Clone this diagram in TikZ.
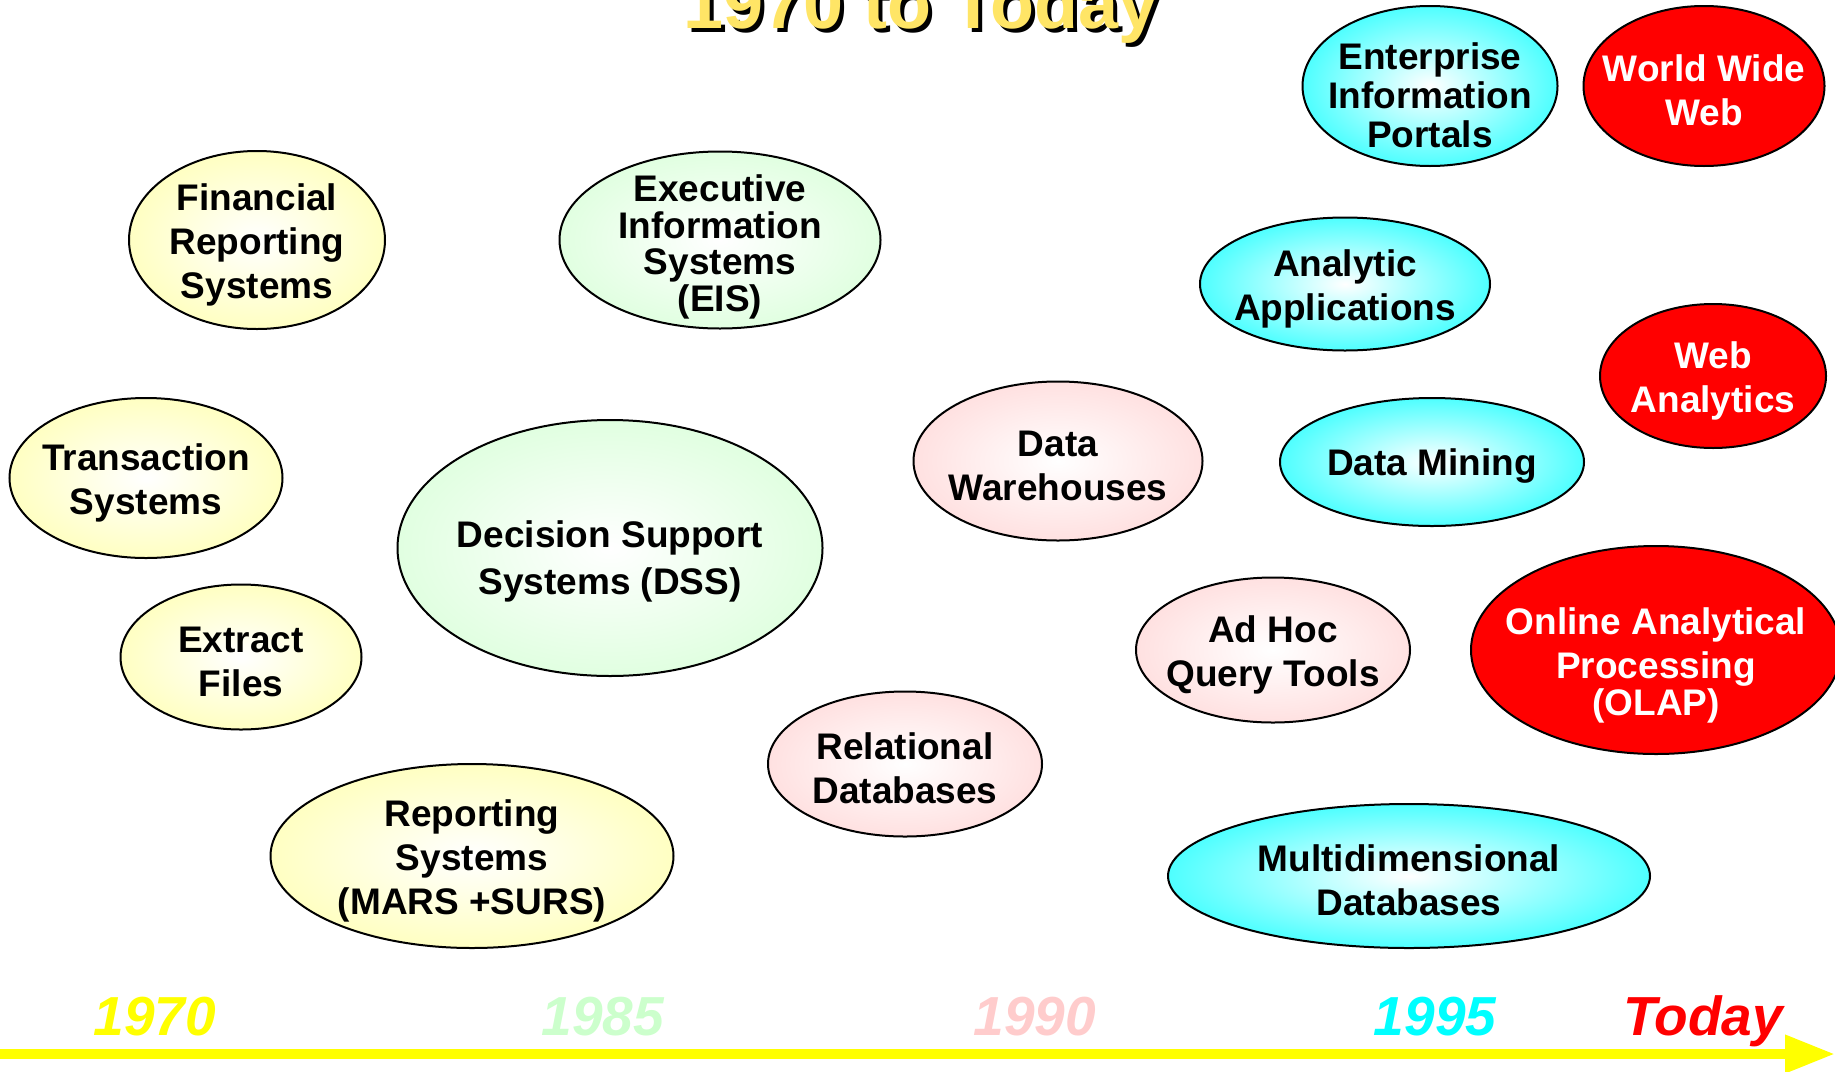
\documentclass[tikz,border=0pt]{standalone}
\usepackage{fontspec}
\setmainfont{Liberation Sans}
\usetikzlibrary{shapes.geometric,arrows.meta}
\definecolor{cY}{HTML}{FFFF99}
\definecolor{cG}{HTML}{CCFFCC}
\definecolor{cP}{HTML}{FFCCCC}
\definecolor{cC}{HTML}{00FFFF}
\definecolor{cR}{HTML}{FF0000}
\definecolor{tY}{HTML}{FFFF00}
\definecolor{titleY}{HTML}{FFE566}
\pgfdeclareradialshading{shY}{\pgfpointorigin}{color(0bp)=(white); color(42bp)=(cY); color(50bp)=(cY)}
\pgfdeclareradialshading{shG}{\pgfpointorigin}{color(0bp)=(white); color(42bp)=(cG); color(50bp)=(cG)}
\pgfdeclareradialshading{shP}{\pgfpointorigin}{color(0bp)=(white); color(42bp)=(cP); color(50bp)=(cP)}
\pgfdeclareradialshading{shC}{\pgfpointorigin}{color(0bp)=(white); color(36bp)=(cC); color(50bp)=(cC)}
\tikzset{
  oval/.style={ellipse, draw=black, line width=2pt, inner sep=0pt},
  ylw/.style={oval, shade, shading=shY},
  grn/.style={oval, shade, shading=shG},
  pnk/.style={oval, shade, shading=shP},
  cyn/.style={oval, shade, shading=shC},
  rd/.style={oval, fill=cR},
  lbl/.style={font=\bfseries\fontsize{37}{#1}\selectfont, align=center, text=black, inner sep=0pt, yshift=-4.5pt},
  lbl/.default=44,
  wlbl/.style={lbl=#1, text=white},
  wlbl/.default=44,
  yr/.style={font=\bfseries\itshape\fontsize{55}{60}\selectfont, anchor=base, inner sep=0pt},
}
\begin{document}
\begin{tikzpicture}[x=1pt,y=-1pt]
\useasboundingbox (0,0) rectangle (1835,1071);
\clip (0,0) rectangle (1835,1071);
\fill[white] (0,0) rectangle (1835,1071);

% title
\node[font=\bfseries\fontsize{72}{80}\selectfont, text=black, anchor=base, inner sep=0pt] (titleshadow) at (925,32) {1970 to Today};
\node[font=\bfseries\fontsize{72}{80}\selectfont, text=titleY, anchor=base, inner sep=0pt] (title) at (921,28) {1970 to Today};

% 1970 group
\node[ylw, minimum width=256, minimum height=178] (fin) at (257,240) {};
\node[lbl] (fint) at (fin.center) {Financial\\Reporting\\Systems};
\node[ylw, minimum width=273, minimum height=160] (trans) at (146,478) {};
\node[lbl] (transt) at (trans.center) {Transaction\\Systems};
\node[ylw, minimum width=241, minimum height=145] (ext) at (241,657) {};
\node[lbl] (extt) at (ext.center) {Extract\\Files};
\node[ylw, minimum width=403, minimum height=184] (rep) at (472,856) {};
\node[lbl] (rept) at (rep.center) {Reporting\\Systems\\(MARS +SURS)};

% 1985 group
\node[grn, minimum width=321, minimum height=177] (eis) at (720,240) {};
\node[lbl=36.5] (eist) at ([yshift=-2.5pt]eis.center) {Executive\\Information\\Systems\\(EIS)};
\node[grn, minimum width=425, minimum height=256] (dss) at (610,548) {};
\node[lbl=47] (dsst) at ([yshift=-9pt]dss.center) {Decision Support\\Systems (DSS)};

% 1990 group
\node[pnk, minimum width=289, minimum height=159] (dw) at (1058,461) {};
\node[lbl] (dwt) at (dw.center) {Data\\Warehouses};
\node[pnk, minimum width=274, minimum height=145] (rel) at (905,764) {};
\node[lbl] (relt) at (rel.center) {Relational\\Databases};
\node[pnk, minimum width=274, minimum height=145] (adhoc) at (1273,650) {};
\node[lbl] (adhoct) at (adhoc.center) {Ad Hoc\\Query Tools};

% 1995 group
\node[cyn, minimum width=255, minimum height=160] (eip) at (1430,86) {};
\node[lbl=39] (eipt) at ([yshift=-4.5pt]eip.center) {Enterprise\\Information\\Portals};
\node[cyn, minimum width=290, minimum height=133] (ana) at (1345,284) {};
\node[lbl] (anat) at (ana.center) {Analytic\\Applications};
\node[cyn, minimum width=304, minimum height=128] (dm) at (1432,462) {};
\node[lbl] (dmt) at (dm.center) {Data Mining};
\node[cyn, minimum width=482, minimum height=144] (mdd) at (1409,876) {};
\node[lbl] (mddt) at (mdd.center) {Multidimensional\\Databases};

% today group
\node[rd, minimum width=241, minimum height=160] (www) at (1704,86) {};
\node[wlbl] (wwwt) at (www.center) {World Wide\\Web};
\node[rd, minimum width=226, minimum height=144] (weba) at (1713,376) {};
\node[wlbl] (webat) at (weba.center) {Web\\Analytics};
\node[rd, minimum width=370, minimum height=208] (olap) at (1656,650) {};
\node[wlbl=44.5] (olapt) at ([yshift=-10.5pt]olap.center) {Online Analytical\\Processing\\[-8pt](OLAP)};

% timeline
\node[yr, text=tY] (y1970) at (155,1035) {1970};
\node[yr, text=cG] (y1985) at (603,1035) {1985};
\node[yr, text=cP] (y1990) at (1035,1035) {1990};
\node[yr, text=cC] (y1995) at (1435,1035) {1995};
\node[yr, text=cR] (ytoday) at (1703,1035) {Today};
\coordinate (tstart) at (0,1054);
\coordinate (tend) at (1835,1054);
\draw[line width=10pt, tY, -{Triangle[length=50pt,width=36pt]}] (tstart) -- (tend);
\end{tikzpicture}
\end{document}
